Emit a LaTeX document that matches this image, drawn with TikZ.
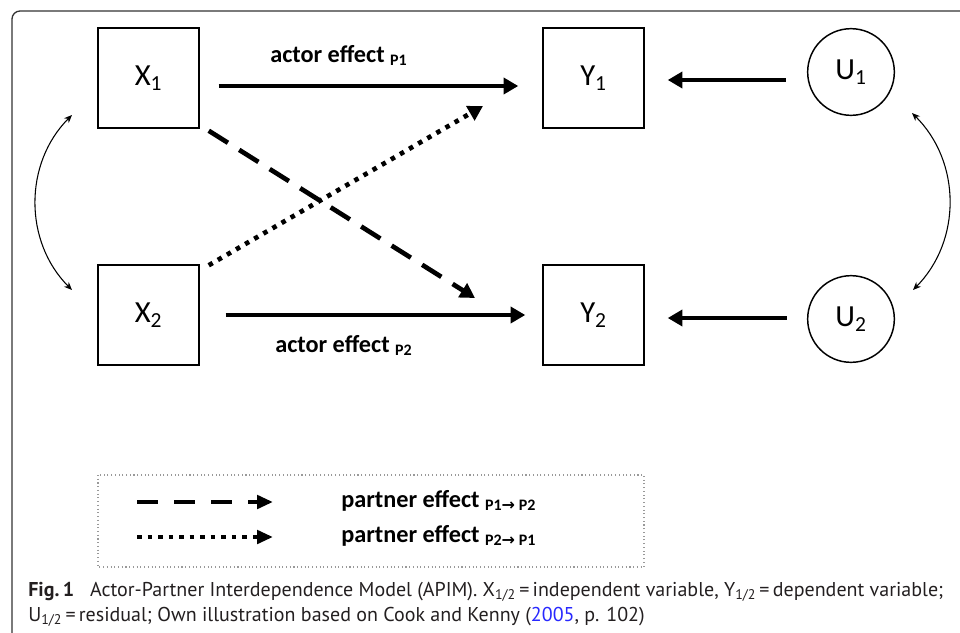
\documentclass[tikz,border=0pt]{standalone}
\usepackage{fontspec}
\setmainfont{Carlito}
\newfontfamily\capfont{PT Sans}
\newfontfamily\arrowfont{DejaVu Sans}
\usetikzlibrary{arrows.meta,calc}
\definecolor{capblue}{RGB}{40,40,255}
\definecolor{captext}{RGB}{35,31,32}
\tikzset{
  varbox/.style={draw, line width=1.1pt, minimum width=75.75pt, minimum height=75pt, inner sep=0pt,
    font=\fontsize{23}{25}\selectfont},
  resid/.style={circle, draw, line width=1.1pt, minimum size=65pt, inner sep=0pt,
    font=\fontsize{23}{25}\selectfont},
  thickarrow/.style={line width=3.5pt, -{Triangle[length=11pt,width=12pt]}},
  dasharrow/.style={thickarrow, dash pattern=on 17pt off 10pt},
  dotarrow/.style={thickarrow, dash pattern=on 3.4pt off 4.5pt},
  covarrow/.style={line width=0.8pt, {Stealth[length=6pt,width=5pt]}-{Stealth[length=6pt,width=5pt]}},
  efflabel/.style={anchor=base west, inner sep=0pt, font=\bfseries\fontsize{18.2}{20}\selectfont},
  caplabel/.style={anchor=base west, inner sep=0pt, text=captext, font=\capfont\fontsize{15}{17}\selectfont},
}
\newcommand{\effsub}[1]{\raisebox{-2.5pt}{\fontsize{12}{13}\selectfont\bfseries #1}}
\newcommand{\parrow}{{\arrowfont\bfseries\fontsize{12}{13}\selectfont →}}
\begin{document}
\begin{tikzpicture}[x=0.75pt,y=-0.75pt]
\useasboundingbox (0,0) rectangle (960,632);
\clip (0,0) rectangle (960,632);
% outer frame
\draw[line width=1pt, black!80, rounded corners=6pt] (12,700) -- (12,11) -- (1000,11);

% variables
\node[varbox] (X1) at (148.5,78) {X\textsubscript{1}};
\node[varbox] (X2) at (148.5,315) {X\textsubscript{2}};
\node[varbox] (Y1) at (593.5,78) {Y\textsubscript{1}};
\node[varbox] (Y2) at (593.5,315) {Y\textsubscript{2}};
\node[resid] (U1) at (851,72) {U\textsubscript{1}};
\node[resid] (U2) at (851,319) {U\textsubscript{2}};

% actor effects
\draw[thickarrow] ([shift={(19,8)}]X1.east) -- ([shift={(-24,8)}]Y1.west);
\draw[thickarrow] ([shift={(26,0)}]X2.east) -- ([shift={(-17,0)}]Y2.west);
\node[efflabel] (a1) at (270,62) {actor effect \effsub{P1}};
\node[efflabel] (a2) at (275,352) {actor effect \effsub{P2}};

% residual arrows
\draw[thickarrow] ([shift={(-21,8)}]U1.west) -- ([shift={(23,2)}]Y1.east);
\draw[thickarrow] ([shift={(-20,-1)}]U2.west) -- ([shift={(23,3)}]Y2.east);

% partner effects
\coordinate (pe1) at (475,298);
\coordinate (pe2) at (483,106);
\draw[dasharrow] ([shift={(9,2)}]X1.south east) -- (pe1);
\draw[dotarrow] ([shift={(9,1)}]X2.north east) -- (pe2);

% covariances
\coordinate (cl1) at (72,115);
\coordinate (cl2) at (72,290);
\coordinate (cr1) at (912,113);
\coordinate (cr2) at (913,290);
\draw[covarrow] (cl1) to[bend right=45] (cl2);
\draw[covarrow] (cr1) to[bend left=45] (cr2);

% legend
\draw[black!40, line width=0.8pt, dotted] (98,475) rectangle (644,567);
\coordinate (la1) at (137,502);
\coordinate (lb1) at (273,502);
\coordinate (la2) at (137,537);
\coordinate (lb2) at (273,537);
\draw[line width=3.2pt, dash pattern=on 15.75pt off 12pt, -{Triangle[length=12pt,width=10pt]}] (la1) -- (lb1);
\draw[line width=3.2pt, dash pattern=on 3.4pt off 4.5pt, -{Triangle[length=12pt,width=10pt]}] (la2) -- (lb2);
\node[efflabel] (p1) at (341,507) {partner effect \effsub{P1\parrow\ P2}};
\node[efflabel] (p2) at (341,542) {partner effect \effsub{P2\parrow\ P1}};

% caption
\node[caplabel] (cap1) at (28,596) {\textbf{Fig.\,1}\hspace{0.8em}Actor-Partner Interdependence Model (APIM). X\textsubscript{1/2}\,=\,independent variable, Y\textsubscript{1/2}\,=\,dependent variable;};
\node[caplabel] (cap2) at (28,621) {U\textsubscript{1/2}\,=\,residual; Own illustration based on Cook and Kenny (\textcolor{capblue}{2005}, p. 102)};
\end{tikzpicture}
\end{document}
